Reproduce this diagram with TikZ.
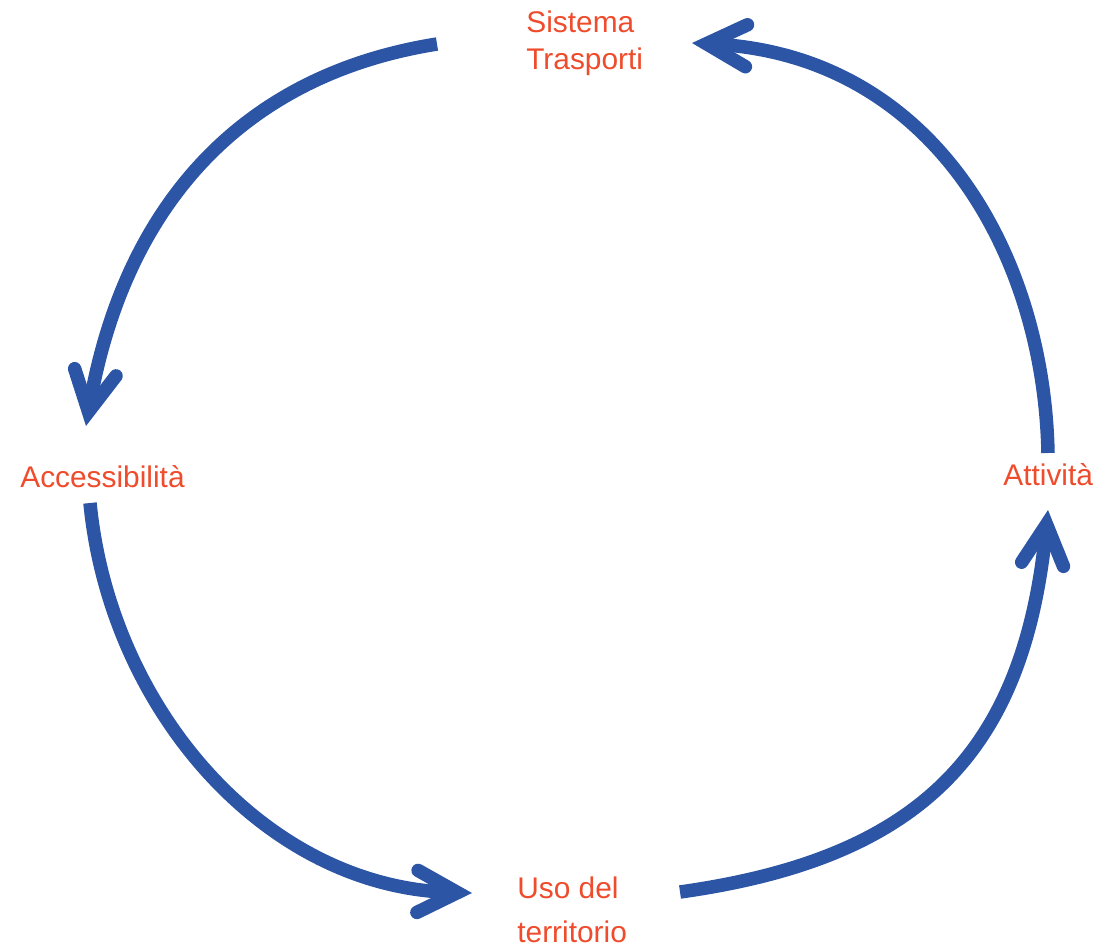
\documentclass[tikz,border=0pt]{standalone}
\usepackage{fontspec}
\setmainfont{Liberation Sans}
\usetikzlibrary{arrows.meta}

\definecolor{arcblue}{RGB}{44,86,165}
\definecolor{labred}{RGB}{238,76,44}
\tikzset{
  lab/.style={text=labred,font=\fontsize{17pt}{21pt}\selectfont,inner sep=0pt,anchor=base west,align=left},
  flow/.style={draw=arcblue,line width=0.27cm,-{Straight Barb[length=0.8cm,width=0.84cm,line cap=round,line join=miter]}}
}

\begin{document}
\begin{tikzpicture}[x=0.02cm,y=-0.02cm]
\useasboundingbox (0,0) rectangle (1100,948);
% labels (base = last line)
\node[lab] (sys) at (526,69) {Sistema\\Trasporti};
\node[lab] (acc) at (20,487) {Accessibilità};
\node[lab] (uso) at (517,942) {Uso del\\[4pt]territorio};
\node[lab] (att) at (1003,485) {Attività};
% ends of the arcs
\coordinate (sysL) at (437,44);
\coordinate (sysR) at (692,43);
\coordinate (accT) at (86,426);
\coordinate (accB) at (90,503);
\coordinate (usoL) at (472,893);
\coordinate (usoR) at (680,892);
\coordinate (attB) at (1048,510);
\coordinate (attT) at (1048,453);
% cycle
\draw[flow] (sysL) .. controls (230,77) and (122,219) .. (accT);
\draw[flow] (accB) .. controls (110,709) and (265,887) .. (usoL);
\draw[flow] (usoR) .. controls (923,858) and (1024,750) .. (attB);
\draw[flow] (attT) .. controls (1044,253) and (932,55) .. (sysR);
\end{tikzpicture}
\end{document}
